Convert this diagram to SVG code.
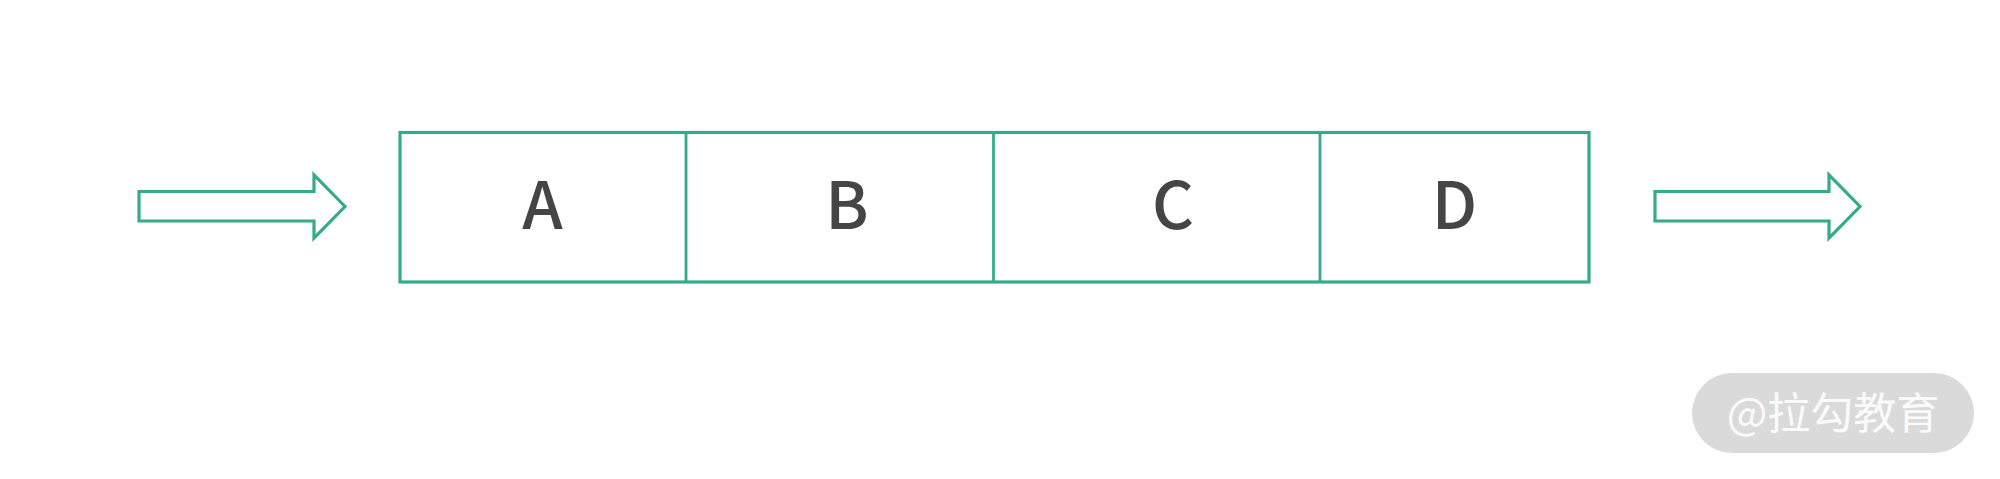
<svg xmlns="http://www.w3.org/2000/svg" width="2000" height="479" viewBox="0 0 2000 479">
  <style>
    .ln { fill: none; stroke: #36ab89; stroke-width: 3.2; stroke-linejoin: miter; }
    .dv { stroke: #36ab89; stroke-width: 2.8; }
    .lbl { font-family: "Noto Sans CJK SC", "Noto Sans", "Liberation Sans", sans-serif; font-size: 65px; font-weight: 500; fill: #454545; text-anchor: middle; }
    .wm { font-family: "Noto Sans CJK SC", "Noto Sans", sans-serif; font-size: 43px; font-weight: 400; fill: #fafafa; text-anchor: middle; }
  </style>
  <rect width="2000" height="479" fill="#ffffff"/>
  <g id="connectors">
    <polygon id="arrow-in" class="ln" points="139,191.5 314,191.5 314,175 345,206.5 314,238 314,221 139,221"/>
    <polygon id="arrow-out" class="ln" points="1655,191.5 1829,191.5 1829,175 1860,206.5 1829,238 1829,221 1655,221"/>
  </g>
  <g id="queue">
    <rect class="ln" x="400" y="132.5" width="1189" height="149.5"/>
  </g>
  <g id="node-A">
    <text class="lbl" x="542.5" y="228.5">A</text>
  </g>
  <g id="node-B">
    <line class="dv" x1="686" y1="132.5" x2="686" y2="282"/>
    <text class="lbl" x="847" y="228.5">B</text>
  </g>
  <g id="node-C">
    <line class="dv" x1="993.5" y1="132.5" x2="993.5" y2="282"/>
    <text class="lbl" x="1173" y="228.5">C</text>
  </g>
  <g id="node-D">
    <line class="dv" x1="1320" y1="132.5" x2="1320" y2="282"/>
    <text class="lbl" x="1454.5" y="228.5">D</text>
  </g>
  <g id="watermark">
    <rect x="1692" y="373" width="282" height="80" rx="40" ry="40" fill="#dadada"/>
    <text class="wm" x="1833" y="429">@拉勾教育</text>
  </g>
</svg>
